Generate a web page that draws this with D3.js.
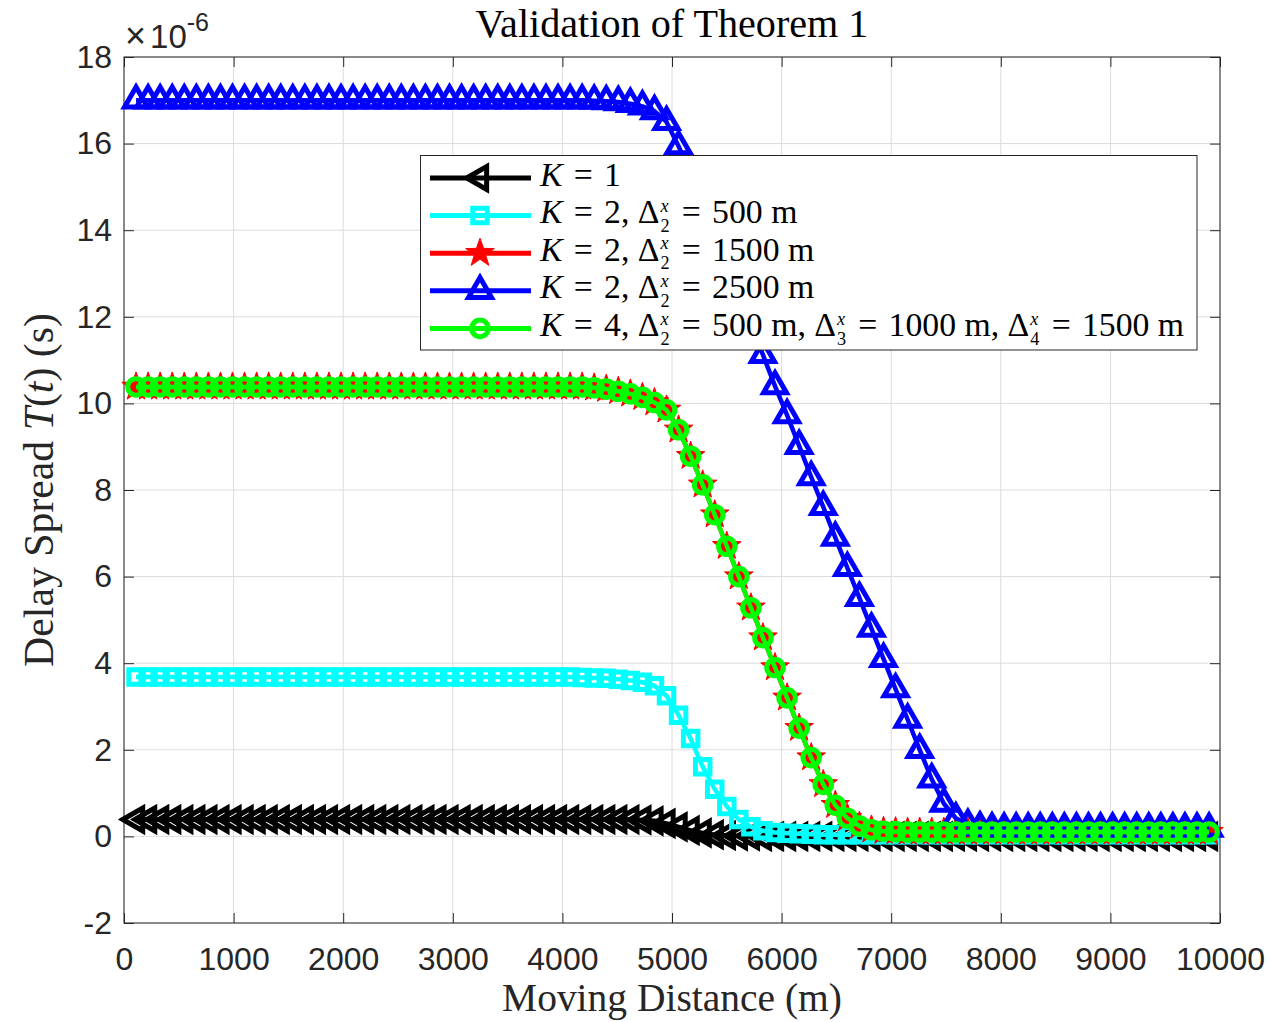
<!DOCTYPE html>
<html><head><meta charset="utf-8">
<script src="https://cdn.jsdelivr.net/npm/d3@7"></script>
<style>body{margin:0;background:#fff} svg{display:block}</style>
</head><body><svg id="chart" width="1270" height="1022"></svg>
<script>
// ---------- data (delay spread in units of 1e-6 s) ----------
const distance = [110,220,330,440,550,660,770,880,990,1100,1210,1320,1430,1540,1650,1760,1870,1980,2090,2200,2310,2420,2530,2640,2750,2860,2970,3080,3190,3300,3410,3520,3630,3740,3850,3960,4070,4180,4290,4400,4510,4620,4730,4840,4950,5060,5170,5280,5390,5500,5610,5720,5830,5940,6050,6160,6270,6380,6490,6600,6710,6820,6930,7040,7150,7260,7370,7480,7590,7700,7810,7920,8030,8140,8250,8360,8470,8580,8690,8800,8910,9020,9130,9240,9350,9460,9570,9680,9790,9900];

const delayK1 = [0.39,0.39,0.39,0.39,0.39,0.39,0.39,0.39,0.39,0.39,0.39,0.39,0.39,0.39,0.39,0.39,0.39,0.39,0.39,0.39,0.39,0.39,0.39,0.39,0.39,0.39,0.39,0.39,0.39,0.39,0.39,0.39,0.39,0.39,0.39,0.39,0.39,0.39,0.39,0.39,0.39,0.39,
  0.38,0.36,0.30,0.22,0.14,0.08,0.04,0.02,0.01,0.01,
  0,0,0,0,0,0,0,0,0,0,0,0,0,0,0,0,0,0,0,0,0,0,0,0,0,0,0,0,0,0,0,0,0,0,0,0,0,0];

const delayK2d500 = [3.68,3.68,3.68,3.68,3.68,3.68,3.68,3.68,3.68,3.68,3.68,3.68,3.68,3.68,3.68,3.68,3.68,3.68,3.68,3.68,3.68,3.68,3.68,3.68,3.68,3.68,3.68,3.68,3.68,3.68,3.68,3.68,3.68,3.68,3.68,3.68,3.68,
  3.67,3.66,3.65,3.63,3.60,3.56,3.48,3.25,2.80,2.26,1.61,1.09,0.69,0.39,0.22,0.13,0.09,0.07,0.06,0.05,
  0.04,0.04,0.04,0.04,0.04,0.04,0.04,0.04,0.04,0.04,0.04,0.04,0.04,0.04,0.04,0.04,0.04,0.04,0.04,0.04,0.04,0.04,0.04,0.04,0.04,0.04,0.04,0.04,0.04,0.04,0.04,0.04,0.04];

const delayK2d1500 = [10.38,10.38,10.38,10.38,10.38,10.38,10.38,10.38,10.38,10.38,10.38,10.38,10.38,10.38,10.38,10.38,10.38,10.38,10.38,10.38,10.38,10.38,10.38,10.38,10.38,10.38,10.38,10.38,10.38,10.38,10.38,10.38,10.38,10.38,10.38,10.38,10.38,10.38,
  10.36,10.33,10.28,10.22,10.14,10.02,9.85,9.39,8.78,8.12,7.43,6.70,6.00,5.28,4.59,3.90,3.20,2.50,1.82,1.20,0.72,0.42,0.24,0.15,0.12,0.11,
  0.10,0.10,0.10,0.10,0.10,0.10,0.10,0.10,0.10,0.10,0.10,0.10,0.10,0.10,0.10,0.10,0.10,0.10,0.10,0.10,0.10,0.10,0.10,0.10,0.10,0.10];

const delayK2d2500 = [17.00,17.00,17.00,17.00,17.00,17.00,17.00,17.00,17.00,17.00,17.00,17.00,17.00,17.00,17.00,17.00,17.00,17.00,17.00,17.00,17.00,17.00,17.00,17.00,17.00,17.00,17.00,17.00,17.00,17.00,17.00,17.00,17.00,17.00,17.00,17.00,17.00,17.00,
  16.99,16.98,16.96,16.92,16.86,16.75,16.50,15.94,15.30,14.62,13.93,13.22,12.52,11.82,11.12,10.40,9.73,9.02,8.30,7.61,6.90,6.20,5.51,4.80,4.10,3.40,2.70,2.00,1.32,0.76,0.42,0.27,0.21,0.19,
  0.18,0.18,0.18,0.18,0.18,0.18,0.18,0.18,0.18,0.18,0.18,0.18,0.18,0.18,0.18,0.18,0.18,0.18];

const delayK4 = [10.38,10.38,10.38,10.38,10.38,10.38,10.38,10.38,10.38,10.38,10.38,10.38,10.38,10.38,10.38,10.38,10.38,10.38,10.38,10.38,10.38,10.38,10.38,10.38,10.38,10.38,10.38,10.38,10.38,10.38,10.38,10.38,10.38,10.38,10.38,10.38,10.38,10.38,
  10.36,10.33,10.28,10.22,10.14,10.02,9.85,9.39,8.78,8.12,7.43,6.70,6.00,5.28,4.59,3.90,3.20,2.50,1.82,1.20,0.72,0.42,0.24,0.15,0.12,0.11,
  0.10,0.10,0.10,0.10,0.10,0.10,0.10,0.10,0.10,0.10,0.10,0.10,0.10,0.10,0.10,0.10,0.10,0.10,0.10,0.10,0.10,0.10,0.10,0.10,0.10,0.10];

const xTicks = [0,1000,2000,3000,4000,5000,6000,7000,8000,9000,10000];
const yTicks = [-2,0,2,4,6,8,10,12,14,16,18];
const titleText = "Validation of Theorem 1";
const xLabelText = "Moving Distance (m)";

// ---------- geometry ----------
const W = 1270, H = 1022;
const L = 124, R = 1220, T = 57, B = 923;
const svg = d3.select('#chart');
svg.append('rect').attr('width', W).attr('height', H).attr('fill', '#fff');

const x = d3.scaleLinear().domain([0, 10000]).range([L, R]);
const y = d3.scaleLinear().domain([-2, 18]).range([B, T]);

const axisColor = '#262626';
const sansFont = "'Liberation Sans', Arial, Helvetica, sans-serif";
const serifFont = "'Liberation Serif', 'Times New Roman', serif";

// grid
const grid = svg.append('g');
grid.selectAll('line.gx').data(xTicks).join('line')
  .attr('x1', d => x(d)).attr('x2', d => x(d)).attr('y1', T).attr('y2', B)
  .attr('stroke', '#dcdcdc').attr('stroke-width', 1);
grid.selectAll('line.gy').data(yTicks).join('line')
  .attr('y1', d => y(d)).attr('y2', d => y(d)).attr('x1', L).attr('x2', R)
  .attr('stroke', '#dcdcdc').attr('stroke-width', 1);

// axes (inward ticks on all four sides)
function styleAxis(g) {
  g.select('.domain').remove();
  g.selectAll('line').attr('stroke', axisColor).attr('stroke-width', 1);
  g.selectAll('text').attr('fill', axisColor).attr('font-family', sansFont).attr('font-size', 32);
}
svg.append('g').attr('transform', `translate(0,${B})`)
  .call(d3.axisBottom(x).tickValues(xTicks).tickFormat(d3.format('d')).tickSizeInner(-10).tickSizeOuter(0).tickPadding(24))
  .call(styleAxis);
svg.append('g').attr('transform', `translate(0,${T})`)
  .call(d3.axisTop(x).tickValues(xTicks).tickFormat('').tickSizeInner(-10).tickSizeOuter(0))
  .call(styleAxis);
svg.append('g').attr('transform', `translate(${L},0)`)
  .call(d3.axisLeft(y).tickValues(yTicks).tickFormat(d => d < 0 ? '-' + Math.abs(d) : String(d)).tickSizeInner(-10).tickSizeOuter(0).tickPadding(12))
  .call(styleAxis);
svg.append('g').attr('transform', `translate(${R},0)`)
  .call(d3.axisRight(y).tickValues(yTicks).tickFormat('').tickSizeInner(-10).tickSizeOuter(0))
  .call(styleAxis);
svg.append('rect').attr('x', L).attr('y', T).attr('width', R - L).attr('height', B - T)
  .attr('fill', 'none').attr('stroke', axisColor).attr('stroke-width', 1);

// exponent
const ex = svg.append('text').attr('x', 125).attr('y', 48).attr('fill', axisColor).attr('font-family', sansFont);
ex.append('tspan').attr('font-size', 36).text('×');
ex.append('tspan').attr('font-size', 33).attr('dx', 4).text('10');
ex.append('tspan').attr('font-size', 25).attr('dy', -17).text('-6');

// ---------- markers ----------
const S3 = Math.sqrt(3) / 2;
function triUp(a) { const h = a * S3; return `M0,${-2*h/3}L${a/2},${h/3}L${-a/2},${h/3}Z`; }
function triLeft(a) { const h = a * S3; return `M${-2*h/3},0L${h/3},${-a/2}L${h/3},${a/2}Z`; }
function square(s) { return `M${-s/2},${-s/2}h${s}v${s}h${-s}Z`; }
function circ(r) { return `M${r},0A${r},${r} 0 1,1 ${-r},0A${r},${r} 0 1,1 ${r},0Z`; }
function star(Ro, Ri) {
  let p = '';
  for (let i = 0; i < 10; i++) {
    const rr = i % 2 ? Ri : Ro, ang = -Math.PI / 2 + i * Math.PI / 5;
    p += (i ? 'L' : 'M') + (rr * Math.cos(ang)).toFixed(2) + ',' + (rr * Math.sin(ang)).toFixed(2);
  }
  return p + 'Z';
}

const series = [
  {values: delayK1, color: '#000000', marker: triLeft(23), fill: 'none', mw: 5},
  {values: delayK2d500, color: '#00ffff', marker: square(14.5), fill: 'none', mw: 5},
  {values: delayK2d1500, color: '#ff0000', marker: star(15, 6), fill: '#ff0000', mw: 1},
  {values: delayK2d2500, color: '#0000ff', marker: triUp(23), fill: 'none', mw: 5},
  {values: delayK4, color: '#00ff00', marker: circ(8.3), fill: 'none', mw: 5}
];

const line = d3.line().x(d => x(d[0])).y(d => y(d[1]));
const plot = svg.append('g');
series.forEach(s => {
  const pts = distance.map((d, i) => [d, s.values[i]]);
  const g = plot.append('g');
  g.append('path').attr('d', line(pts)).attr('fill', 'none').attr('stroke', s.color)
    .attr('stroke-width', 4.5).attr('stroke-linejoin', 'round');
  g.selectAll('path.m').data(pts).join('path').attr('class', 'm')
    .attr('d', s.marker).attr('transform', d => `translate(${x(d[0])},${y(d[1])})`)
    .attr('fill', s.fill).attr('stroke', s.color).attr('stroke-width', s.mw)
    .attr('stroke-linejoin', 'miter');
});

// ---------- legend ----------
const legendLabels = [
  [{t: 'K', i: 1}, {t: ' = 1'}],
  [{t: 'K', i: 1}, {t: ' = 2, Δ'}, {sup: 'x', sub: '2'}, {t: ' = 500 m'}],
  [{t: 'K', i: 1}, {t: ' = 2, Δ'}, {sup: 'x', sub: '2'}, {t: ' = 1500 m'}],
  [{t: 'K', i: 1}, {t: ' = 2, Δ'}, {sup: 'x', sub: '2'}, {t: ' = 2500 m'}],
  [{t: 'K', i: 1}, {t: ' = 4, Δ'}, {sup: 'x', sub: '2'}, {t: ' = 500 m, Δ'}, {sup: 'x', sub: '3'},
   {t: ' = 1000 m, Δ'}, {sup: 'x', sub: '4'}, {t: ' = 1500 m'}]
];
const lg = svg.append('g');
lg.append('rect').attr('x', 420.5).attr('y', 155.5).attr('width', 776.5).attr('height', 194.5)
  .attr('fill', '#fff').attr('stroke', axisColor).attr('stroke-width', 1);

function buildLabel(g, segs, F, bx, by) {
  g.selectAll('*').remove();
  const t = g.append('text').attr('x', bx).attr('y', by).attr('font-family', serifFont)
    .attr('font-size', F).attr('fill', '#000');
  let pendDy = 0, pendDx = 0;
  const f2 = F * 0.54;
  const up = 0.62 * f2, down = 0.48 * f2;
  segs.forEach(s => {
    if (s.t !== undefined) {
      const sp = t.append('tspan').text(s.t.replace(/ = /g, '\u2004=\u2004'));
      if (s.i) sp.attr('font-style', 'italic');
      if (pendDy) sp.attr('dy', pendDy);
      if (pendDx) sp.attr('dx', pendDx);
      pendDy = 0; pendDx = 0;
    } else {
      const sup = t.append('tspan').text(s.sup).attr('font-style', 'italic').attr('font-size', f2).attr('dy', -up).attr('dx', 1);
      const l1 = sup.node().getComputedTextLength();
      const sub = t.append('tspan').text(s.sub).attr('font-size', f2).attr('dx', -l1).attr('dy', up + down);
      const l2 = sub.node().getComputedTextLength();
      pendDy = -down; pendDx = Math.max(0, l1 - l2) + 1;
    }
  });
  t.selectAll('tspan').style('white-space', 'pre');
  return t;
}

const rowY = [178, 215.6, 253.2, 290.8, 328.4];
const rows = legendLabels.map((segs, i) => {
  const g = lg.append('g');
  const s = series[i];
  g.append('line').attr('x1', 430).attr('x2', 531).attr('y1', rowY[i]).attr('y2', rowY[i])
    .attr('stroke', s.color).attr('stroke-width', 5);
  g.append('path').attr('d', s.marker).attr('transform', `translate(480,${rowY[i]})`)
    .attr('fill', s.fill).attr('stroke', s.color).attr('stroke-width', s.mw);
  return lg.append('g');
});
let F = 28;
let t5 = buildLabel(rows[4], legendLabels[4], F, 540, rowY[4] + 7.5);
F = F * 647 / t5.node().getBBox().width;
legendLabels.forEach((segs, i) => buildLabel(rows[i], segs, F, 540, rowY[i] + 7.5));

// ---------- title & axis labels ----------
function fit(sel, w) {
  const bw = sel.node().getBBox().width;
  sel.attr('font-size', parseFloat(sel.attr('font-size')) * w / bw);
}
const title = svg.append('text').attr('x', 672).attr('y', 37).attr('text-anchor', 'middle')
  .attr('font-family', serifFont).attr('font-size', 34).attr('fill', '#000').text(titleText);
fit(title, 393);

const xl = svg.append('text').attr('x', 672).attr('y', 1011).attr('text-anchor', 'middle')
  .attr('font-family', serifFont).attr('font-size', 34).attr('fill', axisColor).text(xLabelText);
fit(xl, 340);

const yl = svg.append('text').attr('transform', 'translate(53,490) rotate(-90)').attr('text-anchor', 'middle')
  .attr('font-family', serifFont).attr('font-size', 34).attr('fill', axisColor);
yl.append('tspan').text('Delay Spread ');
yl.append('tspan').attr('font-style', 'italic').text('T');
yl.append('tspan').text('(');
yl.append('tspan').attr('font-style', 'italic').text('t');
yl.append('tspan').text(') (s)');
fit(yl, 354);
</script>
</body></html>
